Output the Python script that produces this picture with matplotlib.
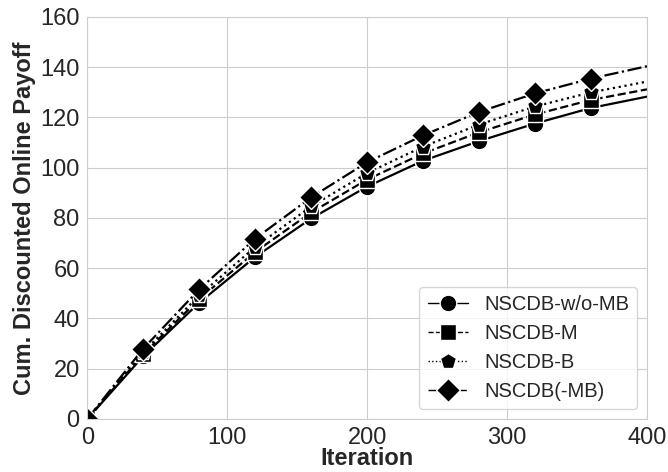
import numpy as np
import matplotlib
matplotlib.use('Agg')
import matplotlib.pyplot as plt
import seaborn as sns

# Kümülatif indirimli çevrimiçi getiri, her 40 iterasyonda bir okunan değerler
iterations = [0, 40, 80, 120, 160, 200, 240, 280, 320, 360, 400]
payoff_wo_mb = [0, 25.0, 46.3, 64.5, 79.8, 92.5, 102.8, 110.6, 117.6, 123.8, 128.3]
payoff_m = [0, 25.8, 47.8, 66.5, 82.2, 95.3, 105.7, 114.1, 121.2, 127.0, 131.2]
payoff_b = [0, 26.6, 49.2, 68.5, 84.6, 97.9, 108.4, 117.2, 124.4, 130.0, 134.3]
payoff_mb = [0, 28.0, 51.6, 71.8, 88.2, 102.2, 112.9, 122.2, 129.6, 135.5, 140.4]

labels = ['NSCDB-w/o-MB', 'NSCDB-M', 'NSCDB-B', 'NSCDB(-MB)']
series = [payoff_wo_mb, payoff_m, payoff_b, payoff_mb]
styles = ['-', '--', ':', '-.']
markers = ['o', 's', 'p', 'D']

sns.set_style('whitegrid')
plt.rcParams['font.family'] = ['Liberation Sans', 'DejaVu Sans']

fig = plt.figure(figsize=(6.68, 4.72), dpi=100)
ax = fig.add_axes([0.1307, 0.1123, 0.8379, 0.8517])

for y, lab, ls, mk in zip(series, labels, styles, markers):
    ax.plot(iterations, y, color='black', linestyle=ls, linewidth=1.6,
            marker=mk, markersize=12, markerfacecolor='black',
            markeredgecolor='white', markeredgewidth=1,
            markevery=list(range(len(iterations) - 1)), label=lab)

ax.set_xlim(0, 400)
ax.set_ylim(0, 160)
ax.set_xticks(np.arange(0, 401, 100))
ax.set_yticks(np.arange(0, 161, 20))
ax.tick_params(labelsize=17, pad=2)
ax.set_xlabel('Iteration', fontsize=17, fontweight='bold', labelpad=-1)
ax.set_ylabel('Cum. Discounted Online Payoff', fontsize=17, fontweight='bold', labelpad=3)

leg = ax.legend(loc='lower right', fontsize=14.5, frameon=True)
for line in leg.get_lines():
    line.set_linewidth(1.0)

plt.savefig('out.png', dpi=100)
